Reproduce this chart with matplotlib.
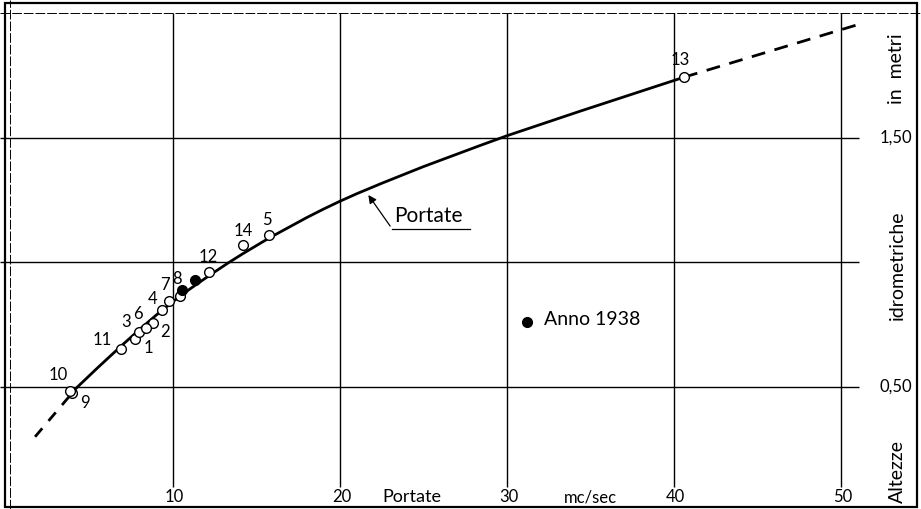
import matplotlib
matplotlib.use("Agg")
import matplotlib.pyplot as plt
from matplotlib.patches import Rectangle

plt.rcParams['font.family'] = ['Lato', 'DejaVu Sans']

# osservazioni numerate (portata mc/sec, altezza m)
obs_num = [1, 2, 3, 4, 5, 6, 7, 8, 9, 10, 11, 12, 13, 14]
obs_q = [7.71, 8.78, 7.98, 9.36, 15.75, 8.37, 9.74, 10.42, 3.93, 3.85, 6.87, 12.17, 40.6, 14.21]
obs_h = [0.692, 0.758, 0.722, 0.809, 1.110, 0.738, 0.847, 0.867, 0.477, 0.485, 0.653, 0.963, 1.744, 1.070]
# spostamento etichette (pixel)
lab_dx = [14, 12, -13, -10, -2, -8, -4, -3, 13, -12, -19, -1, -4, 0]
lab_dy = [-9, -9, 10, 11, 15, 14, 16, 17, -10, 16, 9, 15, 17, 14]

# anno 1938
q_1938 = [10.54, 11.32]
h_1938 = [0.888, 0.930]

# curva delle portate
curve_q = [4.23, 5.5, 6.87, 8.0, 9.0, 10.0, 11.0, 12.2, 13.3, 14.2, 15.75, 18.0, 19.0, 20.0,
           21.0, 22.5, 25.0, 28.4, 30.0, 34.4, 40.6]
curve_h = [0.497, 0.578, 0.663, 0.731, 0.789, 0.843, 0.893, 0.949, 0.998, 1.036, 1.098,
           1.180, 1.214, 1.246, 1.276, 1.318, 1.385, 1.470, 1.509, 1.608, 1.744]
low_q = [1.74, 4.23]
low_h = [0.30, 0.497]
high_q = [40.6, 51.3]
high_h = [1.744, 1.961]

x_ticks = [10, 20, 30, 40, 50]
y_ticks = [0.5, 1.0, 1.5]
y_labels = {0.5: "0,50", 1.5: "1,50"}

fig = plt.figure(figsize=(9.21, 5.09), dpi=100)
ax = fig.add_axes([0, 0, 1, 1])
ax.set_xlim(-0.36, 54.79)
ax.set_ylim(0.010, 2.054)
ax.axis("off")

# reticolo
ax.vlines(x_ticks, 0.098, 2.0, color="k", lw=1.0)
ax.hlines(y_ticks, -0.36, 51.1, color="k", lw=1.0)
ax.hlines(2.0, -0.36, 54.79, color="k", lw=0.7, linestyle=(0, (10, 2)))
ax.axvline(0.24, color="k", lw=0.7, linestyle=(0, (10, 2)))
fig.add_artist(Rectangle((5 / 921, 2 / 509), 912 / 921, 504 / 509,
                         transform=fig.transFigure, fill=False, lw=1.6, color="k"))

# curva
ax.plot(curve_q, curve_h, color="k", lw=2.0, solid_capstyle="round", solid_joinstyle="round")
ax.plot(low_q, low_h, color="k", lw=2.0, linestyle=(0, (4, 3.5)))
ax.plot(high_q, high_h, color="k", lw=2.0, linestyle=(0, (5, 3.5)))

# punti
ax.plot(obs_q, obs_h, "o", ms=7, mfc="white", mec="k", mew=1.0, zorder=5)
ax.plot(q_1938, h_1938, "o", ms=7, mfc="k", mec="k", zorder=5)
for n, q, h, dx, dy in zip(obs_num, obs_q, obs_h, lab_dx, lab_dy):
    ax.annotate(str(n), (q, h), xytext=(dx, dy), textcoords="offset pixels",
                ha="center", va="center", fontsize=12)

# legenda anno 1938
ax.plot([31.18], [0.760], "o", ms=7, color="k")
ax.text(32.2, 0.770, "Anno 1938", fontsize=14, va="center", ha="left")

# etichetta curva
ax.annotate("", xy=(21.6, 1.28), xytext=(23.1, 1.137),
            arrowprops=dict(arrowstyle="-|>", color="k", lw=0.9, mutation_scale=12))
ax.text(23.25, 1.145, "Portate", fontsize=15, ha="left", va="bottom")
ax.plot([23.1, 27.8], [1.135, 1.135], color="k", lw=0.9)

# assi
for xt in x_ticks:
    ax.text(xt + 0.1, 0.058, str(xt), fontsize=12, ha="center", va="center")
ax.text(24.3, 0.058, "Portate", fontsize=13, ha="center", va="center")
ax.text(35.0, 0.058, "mc/sec", fontsize=12, ha="center", va="center")
for yt, lab in y_labels.items():
    ax.text(53.3, yt, lab, fontsize=12, ha="center", va="center")
ax.text(53.35, 0.16, "Altezze", fontsize=14, rotation=90, ha="center", va="center")
ax.text(53.35, 0.99, "idrometriche", fontsize=14, rotation=90, ha="center", va="center")
ax.text(53.35, 1.78, "in  metri", fontsize=14, rotation=90, ha="center", va="center")

fig.savefig("out.png", dpi=100)
